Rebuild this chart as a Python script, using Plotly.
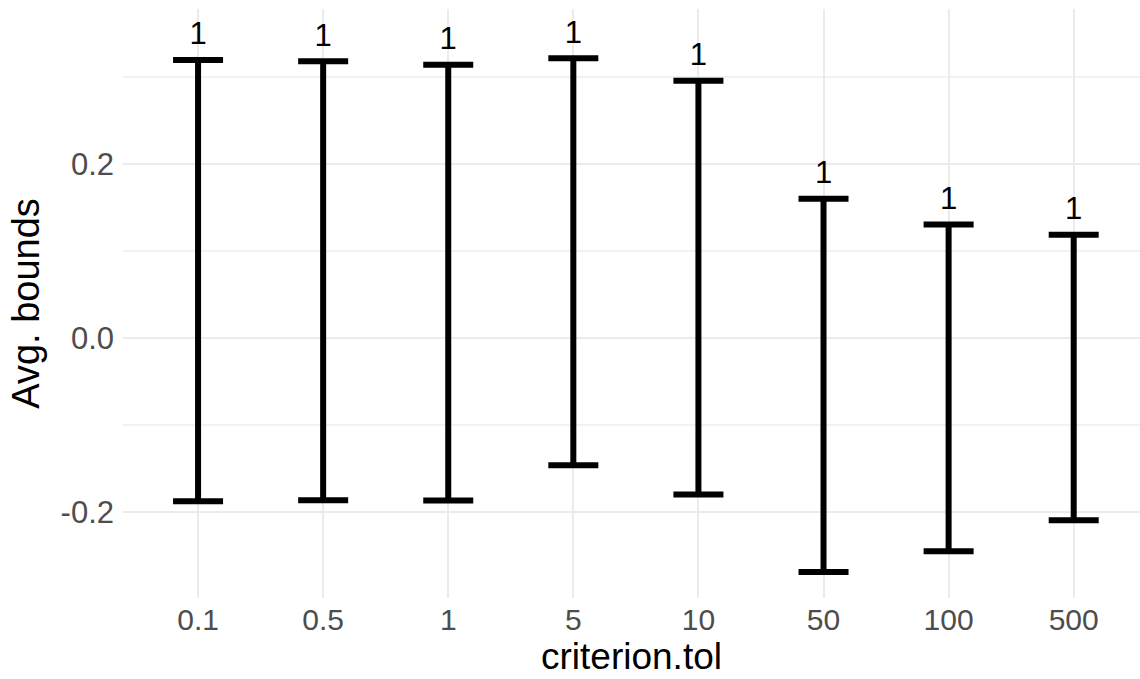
import plotly.graph_objects as go

categories = ["0.1", "0.5", "1", "5", "10", "50", "100", "500"]
upper = [0.3195, 0.318, 0.3138, 0.3215, 0.2954, 0.1598, 0.1303, 0.1184]
lower = [-0.1877, -0.1866, -0.187, -0.1463, -0.180, -0.269, -0.2452, -0.2095]
counts = [1, 1, 1, 1, 1, 1, 1, 1]
y_tickvals = [-0.2, 0.0, 0.2]
y_ticktext = ["-0.2", "0.0", "0.2"]

fig = go.Figure()
fig.add_trace(go.Scatter(
    x=categories, y=upper, mode="markers",
    marker=dict(size=0.1, color="rgba(0,0,0,0)"),
    error_y=dict(type="data", symmetric=False,
                 array=[0] * len(upper),
                 arrayminus=[u - l for u, l in zip(upper, lower)],
                 color="black", thickness=6, width=25),
    showlegend=False, hoverinfo="skip"))
fig.add_trace(go.Scatter(
    x=categories, y=upper, mode="markers+text",
    marker=dict(size=11, color="rgba(0,0,0,0)"),
    text=[str(c) for c in counts], textposition="top center",
    textfont=dict(family="Liberation Sans, Arial, sans-serif", size=31, color="black"),
    showlegend=False, hoverinfo="skip"))

grid = "#EBEBEB"
fig.update_layout(
    width=1140, height=679,
    margin=dict(l=123, r=0, t=9, b=81),
    paper_bgcolor="white", plot_bgcolor="white",
    font=dict(family="Liberation Sans, Arial, sans-serif"),
    xaxis=dict(
        type="category", range=[-0.6, 7.53],
        showgrid=True, gridcolor=grid, gridwidth=2,
        zeroline=False, showline=False, ticks="",
        tickfont=dict(size=30, color="#4D4D4D"),
        ticklabelstandoff=1,
        title=dict(text="criterion.tol", font=dict(size=37, color="black"), standoff=2),
    ),
    yaxis=dict(
        range=[-0.299, 0.378],
        tickvals=y_tickvals, ticktext=y_ticktext,
        showgrid=True, gridcolor=grid, gridwidth=2,
        minor=dict(tickvals=[-0.1, 0.1, 0.3], showgrid=True, gridcolor="#F2F2F2", gridwidth=1.5),
        zeroline=False, showline=False, ticks="",
        tickfont=dict(size=31, color="#4D4D4D"),
        ticklabelstandoff=8,
        title=dict(text="Avg. bounds", font=dict(size=38, color="black"), standoff=9),
    ),
)

fig.write_html("out.html")
